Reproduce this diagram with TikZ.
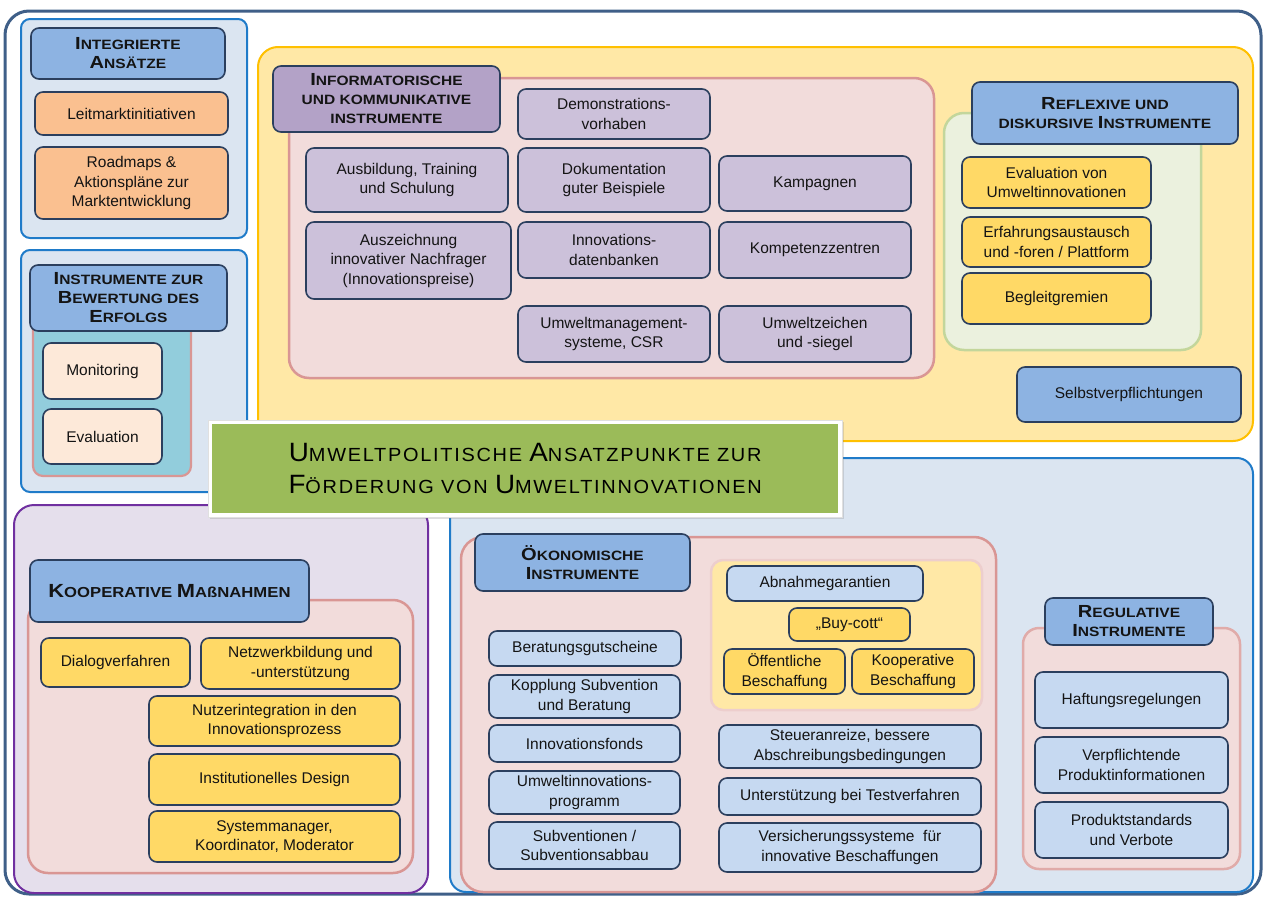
\documentclass[tikz,border=0pt]{standalone}
\usepackage{fontspec}
\setmainfont{Liberation Sans}
\newfontfamily\titlefont[FakeStretch=1.05,LetterSpace=9]{Liberation Sans}
\newfontfamily\headfont[FakeStretch=1.15]{Liberation Sans}
\usetikzlibrary{shadows}
\definecolor{frame}{HTML}{3F5F88}
\definecolor{bdark}{HTML}{2B3F5E}
\definecolor{txt}{HTML}{141414}
\definecolor{lbpanel}{HTML}{DBE5F1}
\definecolor{lbborder}{HTML}{1F7BC9}
\definecolor{hblue}{HTML}{8DB3E2}
\definecolor{orangebox}{HTML}{FAC090}
\definecolor{teal}{HTML}{92CDDC}
\definecolor{pinkfill}{HTML}{F2DCDB}
\definecolor{pinkborder}{HTML}{D99694}
\definecolor{peach}{HTML}{FDE9D9}
\definecolor{yelpanel}{HTML}{FFE8A6}
\definecolor{gold}{HTML}{FFC000}
\definecolor{purphead}{HTML}{B3A2C7}
\definecolor{purpbox}{HTML}{CCC1DA}
\definecolor{greenfill}{HTML}{EBF1DE}
\definecolor{greenborder}{HTML}{C3D69B}
\definecolor{yelbox}{HTML}{FFD966}
\definecolor{lavender}{HTML}{E5DFEC}
\definecolor{purpborder}{HTML}{7030A0}
\definecolor{lbbox}{HTML}{C6D9F1}
\definecolor{titlegreen}{HTML}{9BBB59}
\newcommand\Bg[1]{{\fontsize{17.5}{19}\selectfont #1}}
\newcommand\Tg[1]{{\fontsize{26.5}{33}\selectfont #1}}
\newcommand\bx[7]{\node[#2,anchor=north west,minimum width={#5-#3},minimum height={#6-#4}] (#1) at (#3,#4) {#7};}
\tikzset{
  box/.style={draw=bdark, line width=1.6pt, rounded corners=8pt, inner sep=1pt, outer sep=0pt, align=center, text=txt, font=\fontsize{15.5}{19.5}\selectfont},
  headtxt/.style={font=\headfont\fontsize{13.5}{19}\selectfont\bfseries},
  head/.style={box, fill=hblue, headtxt},
  panel/.style={line width=2pt, rounded corners=16pt, inner sep=0pt, outer sep=0pt},
}
\begin{document}
\begin{tikzpicture}[x=1pt,y=-1pt]
\useasboundingbox (0,0) rectangle (1264,897);
% outer frame
\bx{outer}{panel,draw=frame,fill=white,line width=3pt,rounded corners=24pt}{5}{11}{1261}{894}{}
% ---------- Integrierte Ansaetze
\bx{pIA}{panel,draw=lbborder,fill=lbpanel,rounded corners=9pt}{21}{19}{247}{238}{}
\bx{hIA}{head}{31}{28}{225}{79}{\Bg{I}NTEGRIERTE\\\Bg{A}NSÄTZE}
\bx{leit}{box,fill=orangebox}{35}{92}{228}{135}{Leitmarktinitiativen}
\bx{road}{box,fill=orangebox}{35}{147}{228}{219}{Roadmaps \&\\Aktionspläne zur\\Marktentwicklung}
% ---------- Bewertung
\bx{pBW}{panel,draw=lbborder,fill=lbpanel,rounded corners=9pt}{21}{250}{247}{492}{}
\bx{tBW}{panel,draw=pinkborder,fill=teal,line width=2.2pt,rounded corners=10pt}{33}{320}{191}{476}{}
\bx{hBW}{head}{30}{265}{227}{331}{\Bg{I}NSTRUMENTE ZUR\\\Bg{B}EWERTUNG DES\\\Bg{E}RFOLGS}
\bx{moni}{box,fill=peach}{43}{343}{162}{399}{Monitoring}
\bx{eval}{box,fill=peach}{43}{409}{162}{464}{Evaluation}
% ---------- Yellow panel
\bx{pY}{panel,draw=gold,fill=yelpanel,rounded corners=20pt}{258}{47}{1253}{441}{}
\bx{pInf}{panel,draw=pinkborder,fill=pinkfill,line width=2.5pt,rounded corners=20pt}{289}{78}{934}{378}{}
\bx{hInf}{box,fill=purphead,headtxt}{273}{66}{500}{132}{\Bg{I}NFORMATORISCHE\\UND KOMMUNIKATIVE\\INSTRUMENTE}
\bx{demo}{box,fill=purpbox}{518}{89}{710}{139}{Demonstrations-\\vorhaben}
\bx{ausb}{box,fill=purpbox}{306}{148}{508}{212}{Ausbildung, Training\\und Schulung}
\bx{doku}{box,fill=purpbox}{518}{148}{710}{212}{Dokumentation\\guter Beispiele}
\bx{kamp}{box,fill=purpbox}{719}{156}{911}{211}{Kampagnen}
\bx{ausz}{box,fill=purpbox}{306}{222}{511}{299}{Auszeichnung\\innovativer Nachfrager\\(Innovationspreise)}
\bx{idb}{box,fill=purpbox}{518}{222}{710}{278}{Innovations-\\datenbanken}
\bx{komp}{box,fill=purpbox}{719}{222}{911}{278}{Kompetenzzentren}
\bx{ums}{box,fill=purpbox}{518}{306}{710}{362}{Umweltmanagement-\\systeme, CSR}
\bx{uzs}{box,fill=purpbox}{719}{306}{911}{362}{Umweltzeichen\\und -siegel}
% reflexive
\bx{pRef}{panel,draw=greenborder,fill=greenfill,line width=2.5pt,rounded corners=20pt}{944}{113}{1201}{350}{}
\bx{hRef}{head}{972}{82}{1238}{144}{\Bg{R}EFLEXIVE UND\\DISKURSIVE \Bg{I}NSTRUMENTE}
\bx{evuw}{box,fill=yelbox}{962}{157}{1151}{208}{Evaluation von\\Umweltinnovationen}
\bx{erf}{box,fill=yelbox}{962}{217}{1151}{267}{Erfahrungsaustausch\\und -foren / Plattform}
\bx{begl}{box,fill=yelbox}{962}{273}{1151}{324}{Begleitgremien}
\bx{selbst}{box,fill=hblue}{1017}{367}{1241}{422}{Selbstverpflichtungen}
% ---------- Kooperative
\bx{pK}{panel,draw=purpborder,fill=lavender,rounded corners=20pt}{14}{505}{428}{893}{}
\bx{pKin}{panel,draw=pinkborder,fill=pinkfill,line width=2.5pt,rounded corners=20pt}{28}{600}{413}{873}{}
\bx{hK}{head,font=\headfont\fontsize{14.5}{19}\selectfont\bfseries}{30}{560}{309}{622}{{\fontsize{19}{19}\selectfont K}OOPERATIVE {\fontsize{19}{19}\selectfont M}AßNAHMEN}
\bx{dial}{box,fill=yelbox}{41}{638}{190}{687}{Dialogverfahren}
\bx{netz}{box,fill=yelbox}{201}{638}{400}{689}{Netzwerkbildung und\\-unterstützung}
\bx{nutz}{box,fill=yelbox}{149}{696}{400}{746}{Nutzerintegration in den\\Innovationsprozess}
\bx{inst}{box,fill=yelbox}{149}{754}{400}{805}{Institutionelles Design}
\bx{sysm}{box,fill=yelbox}{149}{811}{400}{862}{Systemmanager,\\Koordinator, Moderator}
% ---------- Blue panel bottom right
\bx{pBR}{panel,draw=lbborder,fill=lbpanel,rounded corners=16pt}{450}{458}{1253}{892}{}
\bx{pOek}{panel,draw=pinkborder,fill=pinkfill,line width=2.5pt,rounded corners=22pt}{461}{537}{996}{892}{}
\bx{hOek}{head}{475}{534}{690}{591}{\Bg{Ö}KONOMISCHE\\\Bg{I}NSTRUMENTE}
\bx{pBes}{panel,draw=pinkfill!80!pinkborder,fill=yelpanel,line width=2.5pt,rounded corners=12pt}{711}{560}{982}{710}{}
\bx{abn}{box,fill=lbbox}{727}{566}{923}{601}{Abnahmegarantien}
\bx{buy}{box,fill=yelbox}{789}{608}{910}{641}{„Buy-cott“}
\bx{oeff}{box,fill=yelbox}{724}{649}{845}{694}{Öffentliche\\Beschaffung}
\bx{koopb}{box,fill=yelbox}{852}{649}{974}{694}{Kooperative\\Beschaffung}
\bx{berg}{box,fill=lbbox}{489}{631}{681}{666}{Beratungsgutscheine}
\bx{kopp}{box,fill=lbbox}{489}{675}{680}{718}{Kopplung Subvention\\und Beratung}
\bx{infd}{box,fill=lbbox}{489}{725}{680}{762}{Innovationsfonds}
\bx{uip}{box,fill=lbbox}{489}{771}{680}{814}{Umweltinnovations-\\programm}
\bx{subv}{box,fill=lbbox}{489}{822}{680}{869}{Subventionen /\\Subventionsabbau}
\bx{steu}{box,fill=lbbox}{719}{725}{981}{768}{Steueranreize, bessere\\Abschreibungsbedingungen}
\bx{test}{box,fill=lbbox}{719}{778}{981}{815}{Unterstützung bei Testverfahren}
\bx{vers}{box,fill=lbbox}{719}{823}{981}{872}{Versicherungssysteme \ für\\innovative Beschaffungen}
% regulative
\bx{pReg}{panel,draw=pinkborder!70!pinkfill,fill=pinkfill,line width=2.5pt,rounded corners=16pt}{1023}{628}{1240}{869}{}
\bx{hReg}{head}{1045}{598}{1213}{645}{\Bg{R}EGULATIVE\\\Bg{I}NSTRUMENTE}
\bx{haft}{box,fill=lbbox}{1035}{672}{1228}{728}{Haftungsregelungen}
\bx{verp}{box,fill=lbbox}{1035}{737}{1228}{793}{Verpflichtende\\Produktinformationen}
\bx{prod}{box,fill=lbbox}{1035}{802}{1228}{858}{Produktstandards\\und Verbote}
% ---------- Title
\bx{tframe}{draw=black!12,line width=0.5pt,fill=white,drop shadow={opacity=0.25,shadow xshift=1.5pt,shadow yshift=-1.5pt},inner sep=0pt}{208}{420}{842}{517}{}
\bx{title}{fill=titlegreen,inner sep=0pt,align=center,text=black,font=\titlefont\fontsize{19}{32.5}\selectfont}{212}{424}{838}{513}{\Tg{U}MWELTPOLITISCHE \Tg{A}NSATZPUNKTE ZUR\\\Tg{F}ÖRDERUNG VON \Tg{U}MWELTINNOVATIONEN}
\end{tikzpicture}
\end{document}
